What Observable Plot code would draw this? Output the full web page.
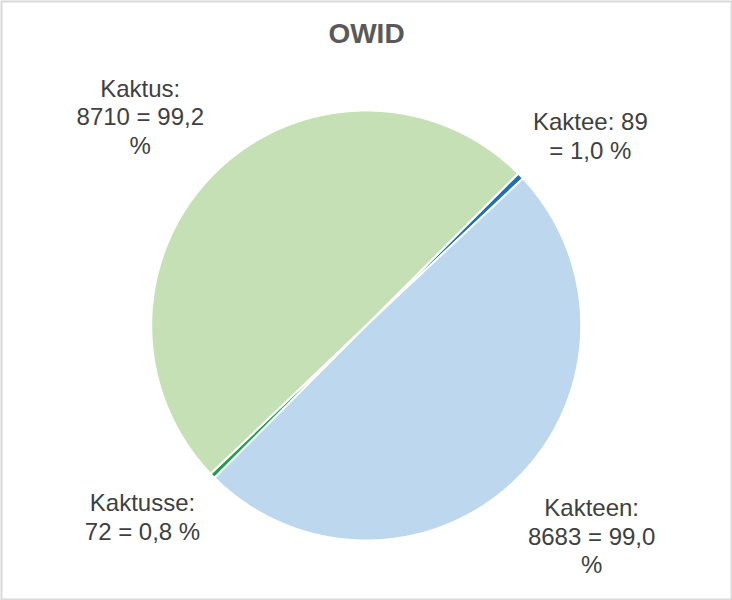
<!DOCTYPE html>
<html>
<head>
<meta charset="utf-8">
<script src="https://cdn.jsdelivr.net/npm/d3@7"></script>
<script src="https://cdn.jsdelivr.net/npm/@observablehq/plot@0.6"></script>
<style>
  html, body { margin: 0; padding: 0; background: #fff; }
  #chart svg { display: block; }
</style>
</head>
<body>
<div id="chart"></div>
<script>
// ---- data ----
const title = "OWID";
const names = ["Kaktee", "Kakteen", "Kaktusse", "Kaktus"];
const values = [89, 8683, 72, 8710];
const labels = [
  "Kaktee: 89\n= 1,0 %",
  "Kakteen:\n8683 = 99,0\n%",
  "Kaktusse:\n72 = 0,8 %",
  "Kaktus:\n8710 = 99,2\n%"
];
const palette = ["#2070b6", "#bdd7ee", "#1f9e50", "#c5e0b4"];

// ---- layout ----
const W = 732, H = 600;
const cx = 365.7, cy = 325, R = 215;   // pie centre and radius in px
const fontSize = 24, lineH = 1.2;
const labelFont = `${fontSize}px 'Liberation Sans', Arial, sans-serif`;

const rows = names.map((name, i) => ({name, value: values[i], label: labels[i]}));
const arcs = d3.pie().value(d => d.value).sort(null)
  .startAngle(Math.PI / 4).endAngle(Math.PI / 4 + 2 * Math.PI)(rows);

// polygon outline of each slice (unit radius)
const slicePts = [];
for (const a of arcs) {
  const n = Math.max(2, Math.ceil((a.endAngle - a.startAngle) / (Math.PI / 720)));
  slicePts.push({name: a.data.name, x: 0, y: 0});
  for (let k = 0; k <= n; k++) {
    const t = a.startAngle + (a.endAngle - a.startAngle) * k / n;
    slicePts.push({name: a.data.name, x: Math.sin(t), y: Math.cos(t)});
  }
}

// label placement: box corner near the slice, box extends outward
const ctx = document.createElement("canvas").getContext("2d");
ctx.font = labelFont;
const labelPts = arcs.map(a => {
  const m = (a.startAngle + a.endAngle) / 2;
  const s = Math.sin(m), c = Math.cos(m);
  const lines = a.data.label.split("\n");
  const w = Math.max(...lines.map(l => ctx.measureText(l).width)) / R;
  const h = lines.length * fontSize * lineH / R;
  const ar = 1.08;
  return {
    label: a.data.label,
    x: ar * s + Math.sign(s) * w / 2,
    y: ar * c + Math.sign(c) * h / 2
  };
});

const chart = Plot.plot({
  width: W,
  height: H,
  margin: 0,
  x: {domain: [-cx / R, (W - cx) / R], range: [0, W], axis: null},
  y: {domain: [-(H - cy) / R, cy / R], range: [H, 0], axis: null},
  color: {domain: names, range: palette},
  style: {fontFamily: "'Liberation Sans', Arial, sans-serif", background: "#fff"},
  marks: [
    Plot.line(slicePts, {
      x: "x", y: "y", z: "name", fill: "name",
      stroke: "white", strokeWidth: 2, curve: "linear-closed"
    }),
    Plot.text(labelPts, {
      x: "x", y: "y", text: "label",
      fontSize, lineHeight: lineH, lineAnchor: "middle", textAnchor: "middle",
      fill: "#404040"
    }),
    Plot.text([title], {
      frameAnchor: "top", dy: 23, lineAnchor: "top",
      fontSize: 28, fontWeight: "bold", fill: "#595959"
    }),
    Plot.frame({stroke: "#d9d9d9", strokeWidth: 2, inset: 1})
  ]
});
document.getElementById("chart").appendChild(chart);
</script>
</body>
</html>
